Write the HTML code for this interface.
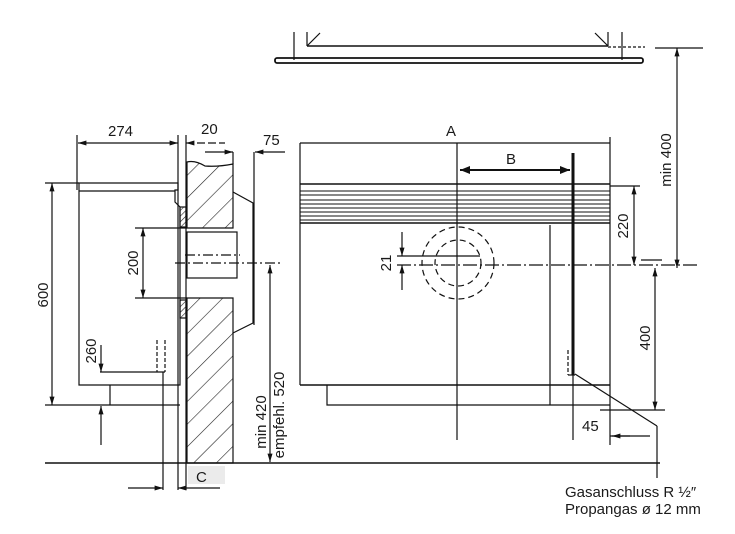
<!DOCTYPE html>
<html><head><meta charset="utf-8"><style>
html,body{margin:0;padding:0;background:#fff;width:735px;height:534px;overflow:hidden}
svg{display:block}
text{font-family:"Liberation Sans",sans-serif;fill:#1a1a1a}
</style></head><body>
<svg width="735" height="534" viewBox="0 0 735 534" xmlns="http://www.w3.org/2000/svg">
<defs>
<marker id="ar" viewBox="0 0 10 10" refX="10" refY="5" markerWidth="7" markerHeight="7" orient="auto-start-reverse"><path d="M0,2 L10,5 L0,8 z" fill="#111"/></marker>
<marker id="big" viewBox="0 0 10 10" refX="10" refY="5" markerWidth="5" markerHeight="5" orient="auto-start-reverse"><path d="M0,1 L10,5 L0,9 z" fill="#111"/></marker>
<pattern id="h" patternUnits="userSpaceOnUse" width="16" height="16" patternTransform="rotate(45)"><line x1="0" y1="0" x2="0" y2="16" stroke="#222" stroke-width="1.2"/></pattern>
<pattern id="h2" patternUnits="userSpaceOnUse" width="4" height="4" patternTransform="rotate(45)"><line x1="0" y1="0" x2="0" y2="4" stroke="#222" stroke-width="1.2"/></pattern>
</defs>
<g stroke="#111" fill="none" stroke-width="1.2">
<!-- top cabinet -->
<line x1="294" y1="32" x2="294" y2="60"/><line x1="622" y1="32" x2="622" y2="60"/>
<line x1="307" y1="32" x2="307" y2="46"/><line x1="608" y1="32" x2="608" y2="46"/>
<line x1="307" y1="46" x2="320" y2="33"/><line x1="608" y1="46" x2="595" y2="33"/>
<line x1="307" y1="46" x2="608" y2="46" stroke-width="1.5"/>
<line x1="608" y1="47" x2="645" y2="47" stroke-dasharray="3 2"/>
<rect x="275" y="58" width="368" height="5" rx="2" stroke-width="1.8"/>
<line x1="655" y1="48" x2="703" y2="48"/>
<line x1="677" y1="48" x2="677" y2="268" marker-start="url(#ar)" marker-end="url(#ar)"/>

<!-- left view -->
<line x1="77" y1="135" x2="77" y2="190"/>
<line x1="78" y1="143" x2="178" y2="143" marker-start="url(#ar)" marker-end="url(#ar)"/>
<line x1="178" y1="135" x2="178" y2="490"/>
<line x1="186" y1="135" x2="186" y2="490"/>
<line x1="186" y1="143" x2="225" y2="143" stroke-dasharray="8 3" marker-start="url(#ar)"/>
<line x1="205" y1="152" x2="233" y2="152" marker-end="url(#ar)"/>
<line x1="233" y1="152" x2="233" y2="164"/>
<line x1="285" y1="152" x2="255" y2="152" marker-end="url(#ar)"/>
<line x1="254" y1="152" x2="254" y2="325"/>
<!-- wall -->
<path d="M187,228 L187,162 Q195,160 205,166 Q218,167 233,164 L233,228 Z" fill="url(#h)"/>
<path d="M187,298 L233,298 L233,463 L187,463 Z" fill="url(#h)"/>
<rect x="180" y="207" width="6" height="20" fill="url(#h2)"/>
<rect x="180" y="300" width="6" height="18" fill="url(#h2)"/>
<!-- tube -->
<rect x="187" y="232" width="50" height="46"/>
<line x1="185" y1="255" x2="240" y2="255" stroke-dasharray="10 3 2 3"/>
<line x1="175" y1="263" x2="280" y2="263" stroke-dasharray="10 3 2 3"/>
<!-- hood -->
<polyline points="233,192 253,203 253,323 233,333"/>
<!-- heater box -->
<path d="M79,183 L178,183 L178,190 L175,190 L175,202 L180,207 L180,385 L79,385 Z"/>
<line x1="79" y1="191" x2="175" y2="191"/>
<line x1="110" y1="385" x2="110" y2="405"/>
<line x1="45" y1="183" x2="79" y2="183"/>
<line x1="45" y1="405" x2="180" y2="405"/>
<line x1="52" y1="183" x2="52" y2="405" marker-start="url(#ar)" marker-end="url(#ar)"/>
<line x1="135" y1="228" x2="187" y2="228"/><line x1="135" y1="298" x2="187" y2="298"/>
<line x1="143" y1="228" x2="143" y2="298" marker-start="url(#ar)" marker-end="url(#ar)"/>
<line x1="101" y1="345" x2="101" y2="372" marker-end="url(#ar)"/>
<line x1="100" y1="372" x2="165" y2="372"/>
<line x1="157" y1="340" x2="157" y2="372" stroke-dasharray="4 2"/>
<line x1="165" y1="340" x2="165" y2="372" stroke-dasharray="4 2"/>
<line x1="163" y1="372" x2="163" y2="490"/>
<line x1="101" y1="445" x2="101" y2="406" marker-end="url(#ar)"/>
<line x1="45" y1="463" x2="660" y2="463" stroke-width="1.5"/>
<line x1="270" y1="265" x2="270" y2="462" marker-start="url(#ar)" marker-end="url(#ar)"/>
<line x1="128" y1="488" x2="163" y2="488" marker-end="url(#ar)"/>
<line x1="220" y1="488" x2="178" y2="488" marker-end="url(#ar)"/>

<!-- right view -->
<line x1="300" y1="143" x2="610" y2="143"/>
<line x1="300" y1="143" x2="300" y2="385"/>
<line x1="610" y1="137" x2="610" y2="445"/>
<line x1="300" y1="184" x2="610" y2="184" stroke-width="1.5"/>
<g stroke-width="0.9">
<line x1="300" y1="191" x2="610" y2="191"/><line x1="300" y1="195" x2="610" y2="195"/>
<line x1="300" y1="200" x2="610" y2="200"/><line x1="300" y1="204" x2="610" y2="204"/>
<line x1="300" y1="208" x2="610" y2="208"/><line x1="300" y1="212" x2="610" y2="212"/>
<line x1="300" y1="216" x2="610" y2="216"/><line x1="300" y1="220" x2="610" y2="220"/>
</g>
<line x1="300" y1="223" x2="610" y2="223" stroke-width="1.4"/>
<line x1="300" y1="385" x2="610" y2="385" stroke-width="1.4"/>
<polyline points="327,385 327,405 610,405"/>
<line x1="550" y1="225" x2="550" y2="405"/>
<line x1="457" y1="143" x2="457" y2="440"/>
<line x1="460" y1="170" x2="570" y2="170" stroke-width="2" marker-start="url(#big)" marker-end="url(#big)"/>
<line x1="573" y1="153" x2="573" y2="375" stroke-width="3"/>
<line x1="568" y1="350" x2="568" y2="375" stroke-dasharray="4 2"/>
<polyline points="568,375 575,375"/>
<line x1="575" y1="374" x2="657" y2="426"/>
<line x1="657" y1="426" x2="657" y2="478"/>
<line x1="573" y1="375" x2="573" y2="440"/>
<line x1="610" y1="436" x2="650" y2="436"/>
<line x1="630" y1="436" x2="612" y2="436" marker-end="url(#ar)"/>
<circle cx="458" cy="263" r="36" stroke-dasharray="6 4"/>
<circle cx="458" cy="263" r="23" stroke-dasharray="6 4"/>
<line x1="397" y1="256" x2="480" y2="256"/>
<line x1="397" y1="265" x2="700" y2="265" stroke-dasharray="14 3 2 3"/>
<line x1="402" y1="232" x2="402" y2="256" marker-end="url(#ar)"/>
<line x1="402" y1="290" x2="402" y2="265" marker-end="url(#ar)"/>
<line x1="610" y1="186" x2="640" y2="186"/>
<line x1="634" y1="186" x2="634" y2="265" marker-start="url(#ar)" marker-end="url(#ar)"/>
<line x1="641" y1="260" x2="662" y2="260"/>
<line x1="655" y1="268" x2="655" y2="410" marker-start="url(#ar)" marker-end="url(#ar)"/>
<line x1="600" y1="410" x2="665" y2="410"/>
</g>
<rect x="188" y="466" width="37" height="18" fill="#ebebeb"/>
<g font-size="15">
<text x="108" y="136">274</text>
<text x="201" y="134">20</text>
<text x="263" y="145">75</text>
<text x="196" y="482">C</text>
<text x="446" y="136">A</text>
<text x="506" y="164">B</text>
<text x="582" y="431">45</text>
<text transform="translate(48,295) rotate(-90)" text-anchor="middle">600</text>
<text transform="translate(138,263) rotate(-90)" text-anchor="middle">200</text>
<text transform="translate(96,351) rotate(-90)" text-anchor="middle">260</text>
<text transform="translate(266,422) rotate(-90)" text-anchor="middle">min 420</text>
<text transform="translate(284,415) rotate(-90)" text-anchor="middle">empfehl. 520</text>
<text transform="translate(391,263) rotate(-90)" text-anchor="middle">21</text>
<text transform="translate(628,226) rotate(-90)" text-anchor="middle">220</text>
<text transform="translate(650,338) rotate(-90)" text-anchor="middle">400</text>
<text transform="translate(671,160) rotate(-90)" text-anchor="middle">min 400</text>
<text x="565" y="497">Gasanschluss R ½″</text>
<text x="565" y="514">Propangas ø 12 mm</text>
</g>
</svg>
</body></html>
